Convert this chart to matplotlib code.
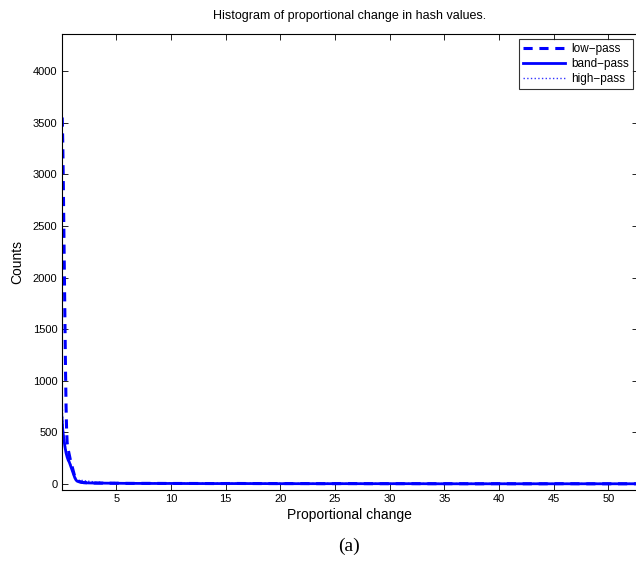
#!/usr/bin/env python3

import matplotlib
matplotlib.use("Agg")
import matplotlib.pyplot as plt

plt.rcParams["font.family"] = ["Liberation Sans", "DejaVu Sans"]
plt.rcParams["font.size"] = 8

# histogram bin centres and counts
low_x = [0.05, 0.1, 0.15, 0.2, 0.25, 0.3, 0.35, 0.4, 0.45, 0.5, 0.6, 0.7,
         0.8, 0.9, 1.0, 1.1, 1.2, 1.4, 1.6, 1.8, 2.0, 2.5, 3.0, 4.0, 5.0, 6.0,
         8.0, 10.0, 12.0, 14.0, 16.0, 18.0, 20.0, 22.0, 24.0, 26.0, 28.0, 30.0,
         32.0, 34.0, 36.0, 38.0, 40.0, 42.0, 44.0, 46.0, 48.0, 50.0, 52.0, 52.7]
low_counts = [3550, 3300, 2900, 2450, 2000, 1550, 1100, 750, 520, 400, 330, 280,
              230, 190, 150, 110, 70, 40, 25, 18, 14, 11, 9, 8, 7, 6,
              6, 5, 5, 4, 5, 4, 4, 4, 3, 4, 3, 3,
              3, 3, 3, 2, 3, 2, 2, 3, 2, 2, 2, 2]

band_x = [0.02, 0.1, 0.2, 0.3, 0.4, 0.5, 0.6, 0.7, 0.8, 0.9, 1.0, 1.1,
          1.2, 1.3, 1.4, 1.6, 1.8, 2.0, 2.5, 3.0, 4.0, 5.0, 6.0, 8.0,
          10.0, 12.0, 14.0, 16.0, 18.0, 20.0, 22.0, 24.0, 26.0, 28.0, 30.0,
          32.0, 34.0, 36.0, 38.0, 40.0, 42.0, 44.0, 46.0, 48.0, 50.0, 52.0, 52.7]
band_counts = [650, 520, 430, 360, 300, 260, 230, 210, 180, 150, 120, 90,
               60, 40, 28, 20, 15, 12, 10, 9, 8, 7, 6, 5,
               5, 4, 4, 4, 4, 3, 3, 3, 3, 3, 3,
               3, 2, 2, 2, 2, 2, 2, 2, 2, 2, 2, 2]

high_x = [0.02, 0.1, 0.2, 0.3, 0.4, 0.5, 0.6, 0.7, 0.8, 0.9, 1.0, 1.1,
          1.2, 1.3, 1.5, 1.7, 2.0, 2.3, 2.6, 3.0, 3.5, 4.0, 5.0, 6.0, 8.0,
          10.0, 12.0, 14.0, 16.0, 18.0, 20.0, 22.0, 24.0, 26.0, 28.0, 30.0,
          32.0, 34.0, 36.0, 38.0, 40.0, 42.0, 44.0, 46.0, 48.0, 50.0, 52.0, 52.7]
high_counts = [900, 600, 480, 390, 330, 290, 250, 230, 200, 170, 140, 110,
               80, 55, 35, 28, 40, 22, 30, 16, 18, 12, 14, 10, 9,
               10, 8, 9, 7, 8, 7, 6, 7, 6, 6, 5,
               6, 5, 5, 6, 5, 4, 5, 4, 5, 4, 4, 4]

x_ticks = [5, 10, 15, 20, 25, 30, 35, 40, 45, 50]
y_ticks = [0, 500, 1000, 1500, 2000, 2500, 3000, 3500, 4000]


def main():
    fig = plt.figure(figsize=(6.36, 5.72), dpi=100)
    ax = fig.add_axes([0.097, 0.1434, 0.906, 0.797])

    ax.plot(low_x, low_counts, color="blue", linestyle="--", linewidth=2.2,
            dashes=(3, 2.2), label="low\u2212pass")
    ax.plot(band_x, band_counts, color="blue", linestyle="-", linewidth=2.0,
            label="band\u2212pass")
    ax.plot(high_x, high_counts, color="blue", linestyle=":", linewidth=1.0,
            alpha=0.8, label="high\u2212pass")

    ax.set_xlim(0, 52.7)
    ax.set_ylim(-58, 4358)
    ax.set_xticks(x_ticks)
    ax.set_yticks(y_ticks)
    ax.tick_params(direction="in", length=4, width=0.6, top=True, right=True,
                   labelsize=8, pad=3)
    for spine in ax.spines.values():
        spine.set_linewidth(0.8)

    ax.set_title("Histogram of proportional change in hash values.",
                 fontsize=9, pad=11)
    ax.set_xlabel("Proportional change", fontsize=10, labelpad=3)
    ax.set_ylabel("Counts", fontsize=10, labelpad=6)

    leg = ax.legend(loc="upper right", fontsize=8.5, frameon=True, fancybox=False,
                    borderpad=0.35, handlelength=3.6, handletextpad=0.5,
                    labelspacing=0.25, borderaxespad=0.4)
    leg.get_frame().set_edgecolor("black")
    leg.get_frame().set_linewidth(0.8)

    fig.text(0.549, 0.045, "(a)", fontsize=14, ha="center", va="center",
             family=["Liberation Serif", "DejaVu Serif"])

    fig.savefig("out.png", dpi=100)


if __name__ == "__main__":
    main()
